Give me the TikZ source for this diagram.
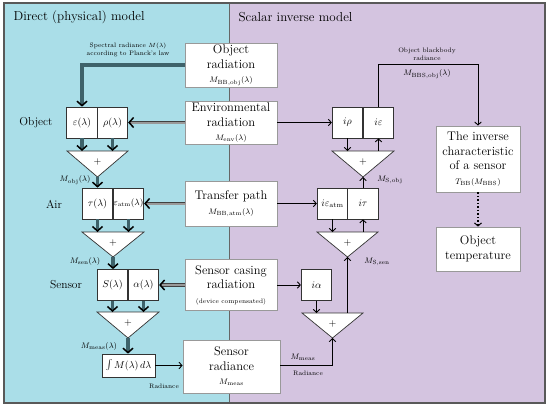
\documentclass[tikz,border=0pt]{standalone}
\usetikzlibrary{arrows.meta}
\definecolor{directbg}{RGB}{170,222,232}
\definecolor{inversebg}{RGB}{212,196,224}
\definecolor{thickgray}{RGB}{62,98,106}
\tikzset{
  bigbox/.style={draw=black!40, fill=white, line width=0.8pt, align=center,
    inner sep=1pt, font=\fontsize{12.5}{14.5}\selectfont},
  halfbox/.style={draw=black!80, fill=white, line width=0.7pt, minimum width=30.5pt,
    minimum height=31pt, inner sep=0pt, font=\fontsize{10}{12}\selectfont},
  sumtri/.style={draw=black!80, fill=white, line width=0.7pt},
  thickarrow/.style={draw=thickgray, line width=3.2pt,
    -{Straight Barb[black,length=4.5pt,width=10pt,line width=1.5pt]}},
  doublearrow/.style={draw=black!75, double=black!40, double distance=2pt, line width=0.8pt,
    -{Straight Barb[black,length=4.5pt,width=10pt,line width=1.5pt]}},
  thinarrow/.style={draw=black, line width=0.9pt, -{Straight Barb[length=3pt,width=6.5pt]}},
  smalltext/.style={font=\fontsize{6.5}{7.5}\selectfont, align=center},
  sublabel/.style={font=\fontsize{8}{9}\selectfont},
  sidelabel/.style={font=\fontsize{11.5}{13}\selectfont},
}
\begin{document}
\begin{tikzpicture}[x=1pt,y=-1pt]
\useasboundingbox (0,0) rectangle (550,408);
% panels
\fill[directbg] (4,3) rectangle (229,403);
\fill[inversebg] (229,3) rectangle (545,403);
\draw[black!60, line width=0.6pt] (229,3) -- (229,403);
\draw[black!65, line width=1.2pt] (4,3) rectangle (545,403);
\node[anchor=west, font=\fontsize{13}{15}\selectfont] (dirtitle) at (10,17) {Direct (physical) model};
\node[anchor=west, font=\fontsize{13}{15}\selectfont] (invtitle) at (235,17) {Scalar inverse model};
% middle column
\node[bigbox, minimum width=92pt, minimum height=44pt] (objrad) at (231,65)
  {Object\\radiation\\{\fontsize{8}{9}\selectfont $M_{\mathrm{BB,obj}}(\lambda)$}};
\node[bigbox, minimum width=92pt, minimum height=43pt] (envrad) at (231,123)
  {Environmental\\radiation\\{\fontsize{8}{9}\selectfont $M_{\mathrm{env}}(\lambda)$}};
\node[bigbox, minimum width=92pt, minimum height=45pt] (transfer) at (231,204)
  {Transfer path\\{\fontsize{8}{9}\selectfont $M_{\mathrm{BB,atm}}(\lambda)$}};
\node[bigbox, minimum width=92pt, minimum height=51pt] (casing) at (231,285)
  {Sensor casing\\radiation\\{\fontsize{6.5}{8}\selectfont (device compensated)}};
\node[bigbox, minimum width=97pt, minimum height=53pt] (senrad) at (231.5,366.5)
  {Sensor\\radiance\\{\fontsize{8}{9}\selectfont $M_{\mathrm{meas}}$}};
% direct model
\node[sidelabel] (objlabel) at (36,123) {Object};
\node[sidelabel] (airlabel) at (54,204) {Air};
\node[sidelabel] (senlabel) at (66,285) {Sensor};
\node[halfbox] (eps) at (82,122.5) {$\varepsilon(\lambda)$};
\node[halfbox] (rho) at (112.5,122.5) {$\rho(\lambda)$};
\node[halfbox] (tau) at (97.5,203.5) {$\tau(\lambda)$};
\node[halfbox, font=\fontsize{9}{11}\selectfont] (epsatm) at (128.5,203.5) {$\varepsilon_{\mathrm{atm}}(\lambda)$};
\node[halfbox] (sens) at (112.5,285) {$S(\lambda)$};
\node[halfbox] (alpha) at (143.5,285) {$\alpha(\lambda)$};
\node[halfbox, minimum width=53pt, minimum height=23pt] (integral) at (128.5,365.5)
  {$\int M(\lambda)\,d\lambda$};
\coordinate (t1l) at (67,151); \coordinate (t1r) at (128,151); \coordinate (t1a) at (97.5,177);
\coordinate (t2l) at (82,232); \coordinate (t2r) at (144,232); \coordinate (t2a) at (113,257);
\coordinate (t3l) at (97,312); \coordinate (t3r) at (159,312); \coordinate (t3a) at (128,338);
\draw[sumtri] (t1l) -- (t1r) -- (t1a) -- cycle;
\draw[sumtri] (t2l) -- (t2r) -- (t2a) -- cycle;
\draw[sumtri] (t3l) -- (t3r) -- (t3a) -- cycle;
\node[font=\fontsize{10}{12}\selectfont] (t1p) at (97.5,162) {+};
\node[font=\fontsize{10}{12}\selectfont] (t2p) at (113,243) {+};
\node[font=\fontsize{10}{12}\selectfont] (t3p) at (128,323) {+};
\node[smalltext] (planck) at (128,50) {Spectral radiance $M(\lambda)$\\according to Planck's law};
\node[sublabel] (mobj) at (75,180) {$M_{\mathrm{obj}}(\lambda)$};
\node[sublabel] (msen) at (85,261) {$M_{\mathrm{sen}}(\lambda)$};
\node[sublabel] (mmeas) at (99,346) {$M_{\mathrm{meas}}(\lambda)$};
\node[smalltext] (radleft) at (164,386) {Radiance};
\draw[thickarrow] (objrad.west) -| (eps.north);
\draw[doublearrow] (envrad.west |- rho.east) -- (rho.east);
\draw[thickarrow] (eps.south) -- (eps.south |- t1l);
\draw[thickarrow] (rho.south) -- (rho.south |- t1l);
\draw[thickarrow] (t1a) -- (tau.north -| t1a);
\draw[doublearrow] (transfer.west |- epsatm.east) -- (epsatm.east);
\draw[thickarrow] (tau.south) -- (tau.south |- t2l);
\draw[thickarrow] (epsatm.south) -- (epsatm.south |- t2l);
\draw[thickarrow] (t2a) -- (sens.north -| t2a);
\draw[doublearrow] (casing.west |- alpha.east) -- (alpha.east);
\draw[thickarrow] (sens.south) -- (sens.south |- t3l);
\draw[thickarrow] (alpha.south) -- (alpha.south |- t3l);
\draw[thickarrow] (t3a) -- (integral.north -| t3a);
\draw[thinarrow] (integral.east) -- (integral.east -| senrad.west);
% inverse model
\node[halfbox] (ip) at (347.5,122.5) {$i\rho$};
\node[halfbox] (ie) at (378.5,122.5) {$i\varepsilon$};
\node[halfbox] (ieatm) at (332.5,203.5) {$i\varepsilon_{\mathrm{atm}}$};
\node[halfbox] (itau) at (363,203.5) {$i\tau$};
\node[halfbox] (ialpha) at (316.5,285) {$i\alpha$};
\coordinate (r1l) at (332,151); \coordinate (r1r) at (394,151); \coordinate (r1a) at (363,177);
\coordinate (r2l) at (317,232); \coordinate (r2r) at (378,232); \coordinate (r2a) at (347.5,257);
\coordinate (r3l) at (302,313); \coordinate (r3r) at (363,313); \coordinate (r3a) at (332.5,338);
\draw[sumtri] (r1l) -- (r1r) -- (r1a) -- cycle;
\draw[sumtri] (r2l) -- (r2r) -- (r2a) -- cycle;
\draw[sumtri] (r3l) -- (r3r) -- (r3a) -- cycle;
\node[font=\fontsize{10}{12}\selectfont] (r1p) at (363,162) {+};
\node[font=\fontsize{10}{12}\selectfont] (r2p) at (347.5,243) {+};
\node[font=\fontsize{10}{12}\selectfont] (r3p) at (332.5,324) {+};
\node[bigbox, minimum width=84pt, minimum height=66pt] (inverse) at (478,159)
  {The inverse\\characteristic\\of a sensor\\{\fontsize{8}{9}\selectfont $T_{\mathrm{BB}}(M_{\mathrm{BBS}})$}};
\node[bigbox, minimum width=84pt, minimum height=44pt] (objtemp) at (478,249)
  {Object\\temperature};
\coordinate (bbsturn) at (478,64);
\node[smalltext] (bbstext) at (427,54) {Object blackbody\\radiance};
\node[sublabel] (mbbs) at (427,74) {$M_{\mathrm{BBS,obj}}(\lambda)$};
\node[sublabel] (msobj) at (390,180) {$M_{\mathrm{S,obj}}$};
\node[sublabel] (mssen) at (377,262) {$M_{\mathrm{S,sen}}$};
\node[sublabel] (mmeasr) at (303,357) {$M_{\mathrm{meas}}$};
\node[smalltext] (radright) at (308,373) {Radiance};
\draw[thinarrow] (envrad.east |- ip.west) -- (ip.west);
\draw[thinarrow] (ie.north) |- (bbsturn) -- (inverse.north);
\draw[thinarrow] (ip.south) -- (ip.south |- r1l);
\draw[thinarrow] (ie.south |- r1l) -- (ie.south);
\draw[thinarrow] (itau.north) -- (r1a);
\draw[thinarrow] (envrad.east |- ieatm.west) -- (ieatm.west);
\draw[thinarrow] (ieatm.south) -- (ieatm.south |- r2l);
\draw[thinarrow] (itau.south |- r2l) -- (itau.south);
\draw[thinarrow] (r2a |- r3l) -- (r2a);
\draw[thinarrow] (casing.east |- ialpha.west) -- (ialpha.west);
\draw[thinarrow] (ialpha.south) -- (ialpha.south |- r3l);
\draw[thinarrow] (senrad.east |- integral.east) -| (r3a);
\draw[black, line width=1.5pt, dotted, -{Straight Barb[length=3pt,width=7pt,line width=1pt]}]
  (inverse.south) -- (objtemp.north);
\end{tikzpicture}
\end{document}
